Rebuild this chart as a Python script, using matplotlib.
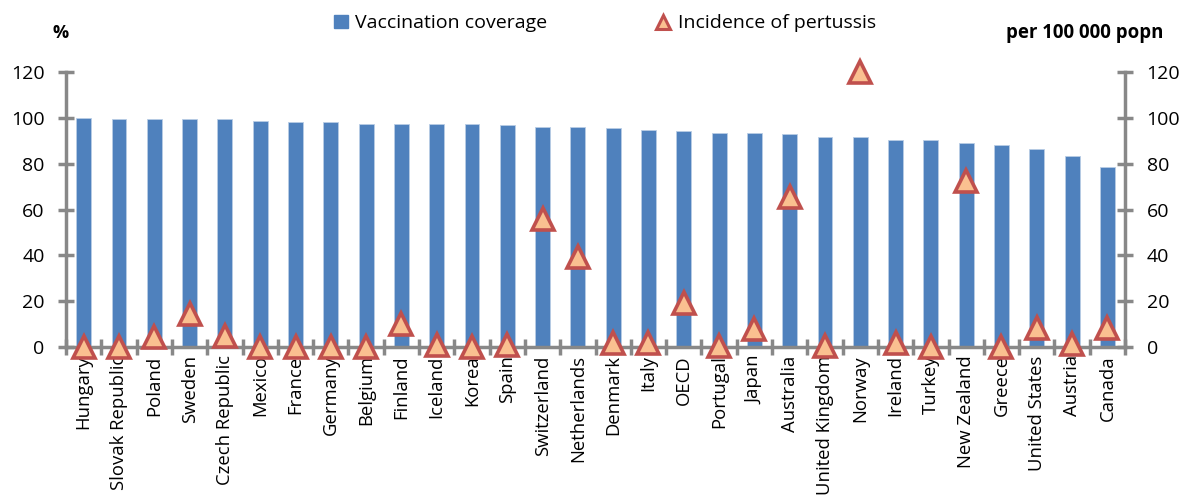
import matplotlib.pyplot as plt
import matplotlib.lines as mlines
import matplotlib.patches as mpatches
import numpy as np

plt.rcParams['font.family'] = ['Open Sans', 'DejaVu Sans']

countries = ["Hungary", "Slovak Republic", "Poland", "Sweden", "Czech Republic",
             "Mexico", "France", "Germany", "Belgium", "Finland", "Iceland",
             "Korea", "Spain", "Switzerland", "Netherlands", "Denmark", "Italy",
             "OECD", "Portugal", "Japan", "Australia", "United Kingdom", "Norway",
             "Ireland", "Turkey", "New Zealand", "Greece", "United States",
             "Austria", "Canada"]

# vaccination coverage, %
coverage = [99.8, 99.3, 99.3, 99.3, 99.3, 98.7, 98.0, 98.0, 97.4, 97.4, 97.4,
            97.4, 96.9, 96.1, 96.1, 95.4, 94.8, 94.1, 93.5, 93.5, 92.9, 91.5,
            91.5, 90.3, 90.3, 89.0, 88.1, 86.2, 83.5, 78.4]

# incidence of pertussis, per 100 000 popn
incidence = [0.0, 0.2, 4.5, 14.4, 4.8, 0.2, 0.0, 0.0, 0.0, 9.9, 1.0,
             0.0, 0.8, 55.7, 39.4, 1.9, 1.9, 19.0, 0.4, 8.0, 65.6, 0.3,
             120.0, 1.6, 0.0, 72.6, 0.0, 8.4, 1.3, 8.4]

bar_col = '#4F81BD'
tri_face = '#FAC090'
tri_edge = '#C0504D'
axis_col = '#888888'

fig = plt.figure(figsize=(11.86, 4.96), dpi=100)
ax = fig.add_axes([0.0557, 0.3004, 0.8929, 0.5544])
ax2 = ax.twinx()

x = np.arange(len(countries))
ax.bar(x, coverage, width=0.42, color=bar_col, edgecolor='#B9CDE5', linewidth=0.6, zorder=2)
ax2.plot(x, incidence, linestyle='none', marker='^', markersize=15.5,
         markerfacecolor=tri_face, markeredgecolor=tri_edge, markeredgewidth=2.6,
         clip_on=False, zorder=5)

ax.set_xlim(-0.5, len(countries) - 0.5)
for a in (ax, ax2):
    a.set_ylim(0, 120)
    a.set_yticks(range(0, 121, 20))
    for s in a.spines.values():
        s.set_visible(False)
ax.spines['left'].set_visible(True)
ax.spines['bottom'].set_visible(True)
ax2.spines['right'].set_visible(True)
for s in (ax.spines['left'], ax.spines['bottom'], ax2.spines['right']):
    s.set_color(axis_col)
    s.set_linewidth(2.5)

ax.set_xticks(np.arange(-0.5, len(countries), 1.0))
ax.set_xticklabels([])
ax.set_xticks(x, minor=True)
ax.set_xticklabels(countries, minor=True, rotation=90, fontsize=13.3)
ax.tick_params(axis='x', which='major', direction='inout', length=11, width=2.5, color=axis_col)
ax.tick_params(axis='x', which='minor', length=0, pad=6)
ax.tick_params(axis='y', direction='inout', length=11, width=2.5, color=axis_col,
               labelsize=14, pad=10)
ax2.tick_params(axis='y', direction='inout', length=11, width=2.5, color=axis_col,
                labelsize=14, pad=10)

fig.text(0.0514, 0.934, '%', fontsize=13, fontweight='bold', ha='center', va='center')
fig.text(0.9144, 0.933, 'per 100 000 popn', fontsize=13.4, fontweight='bold',
         ha='center', va='center')

h1 = mpatches.Patch(color=bar_col, label='Vaccination coverage')
h2 = mlines.Line2D([], [], linestyle='none', marker='^', markersize=10.5,
                   markerfacecolor=tri_face, markeredgecolor=tri_edge,
                   markeredgewidth=2.2, label='Incidence of pertussis')
fig.legend(handles=[h1, h2], loc='center', bbox_to_anchor=(0.51, 0.953), ncol=2,
           frameon=False, fontsize=14, handlelength=0.7, handletextpad=0.4,
           columnspacing=5.6)

fig.savefig('out.png', dpi=100)
